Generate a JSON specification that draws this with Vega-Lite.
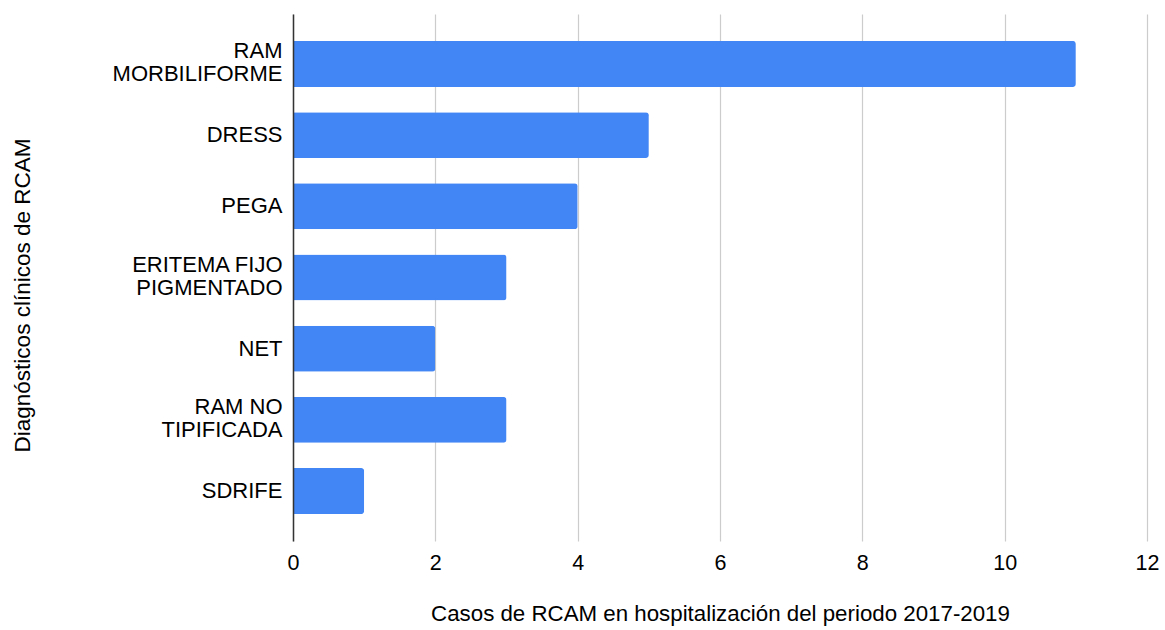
{
  "$schema": "https://vega.github.io/schema/vega-lite/v6.json",
  "autosize": "none",
  "width": 854,
  "height": 527,
  "padding": {"left": 293, "top": 14, "right": 18, "bottom": 89},
  "background": "white",
  "config": {
    "font": "Liberation Sans",
    "view": {"stroke": null}
  },
  "data": {
    "values": [
      {"diagnostico": "RAM\nMORBILIFORME", "casos": 11},
      {"diagnostico": "DRESS", "casos": 5},
      {"diagnostico": "PEGA", "casos": 4},
      {"diagnostico": "ERITEMA FIJO\nPIGMENTADO", "casos": 3},
      {"diagnostico": "NET", "casos": 2},
      {"diagnostico": "RAM NO\nTIPIFICADA", "casos": 3},
      {"diagnostico": "SDRIFE", "casos": 1}
    ]
  },
  "mark": {"type": "bar", "color": "#4285F4", "cornerRadiusEnd": 3},
  "encoding": {
    "y": {
      "field": "diagnostico",
      "type": "nominal",
      "sort": null,
      "scale": {"paddingInner": 0.355, "paddingOuter": 0.379},
      "axis": {
        "title": "Diagnósticos clínicos de RCAM",
        "titleFont": "Liberation Sans",
        "titleFontSize": 22.5,
        "titleFontWeight": "normal",
        "titleColor": "#000000",
        "titleAngle": -90,
        "titleBaseline": "middle",
        "titleAlign": "center",
        "titleX": -271,
        "titleY": 281,
        "labelExpr": "split(datum.value, '\\n')",
        "labelFontSize": 22,
        "labelLineHeight": 23,
        "labelColor": "#000000",
        "labelPadding": 11,
        "labelLimit": 300,
        "labelOffset": {"condition": {"test": "indexof(datum.value, '\\n') >= 0", "value": -12.5}, "value": 0},
        "ticks": false,
        "domainColor": "#333333",
        "domainWidth": 1.5,
        "grid": false,
        "zindex": 1
      }
    },
    "x": {
      "field": "casos",
      "type": "quantitative",
      "scale": {"domain": [0, 12], "nice": false},
      "axis": {
        "title": "Casos de RCAM en hospitalización del periodo 2017-2019",
        "titleFont": "Liberation Sans",
        "titleFontSize": 22.3,
        "titleFontWeight": "normal",
        "titleColor": "#000000",
        "titleBaseline": "middle",
        "titleY": 72,
        "values": [0, 2, 4, 6, 8, 10, 12],
        "labelFontSize": 21.5,
        "labelColor": "#000000",
        "labelBaseline": "middle",
        "labelPadding": 22,
        "labelFlush": false,
        "ticks": false,
        "domain": false,
        "grid": true,
        "gridColor": "#cccccc",
        "gridWidth": 1.2
      }
    }
  }
}
